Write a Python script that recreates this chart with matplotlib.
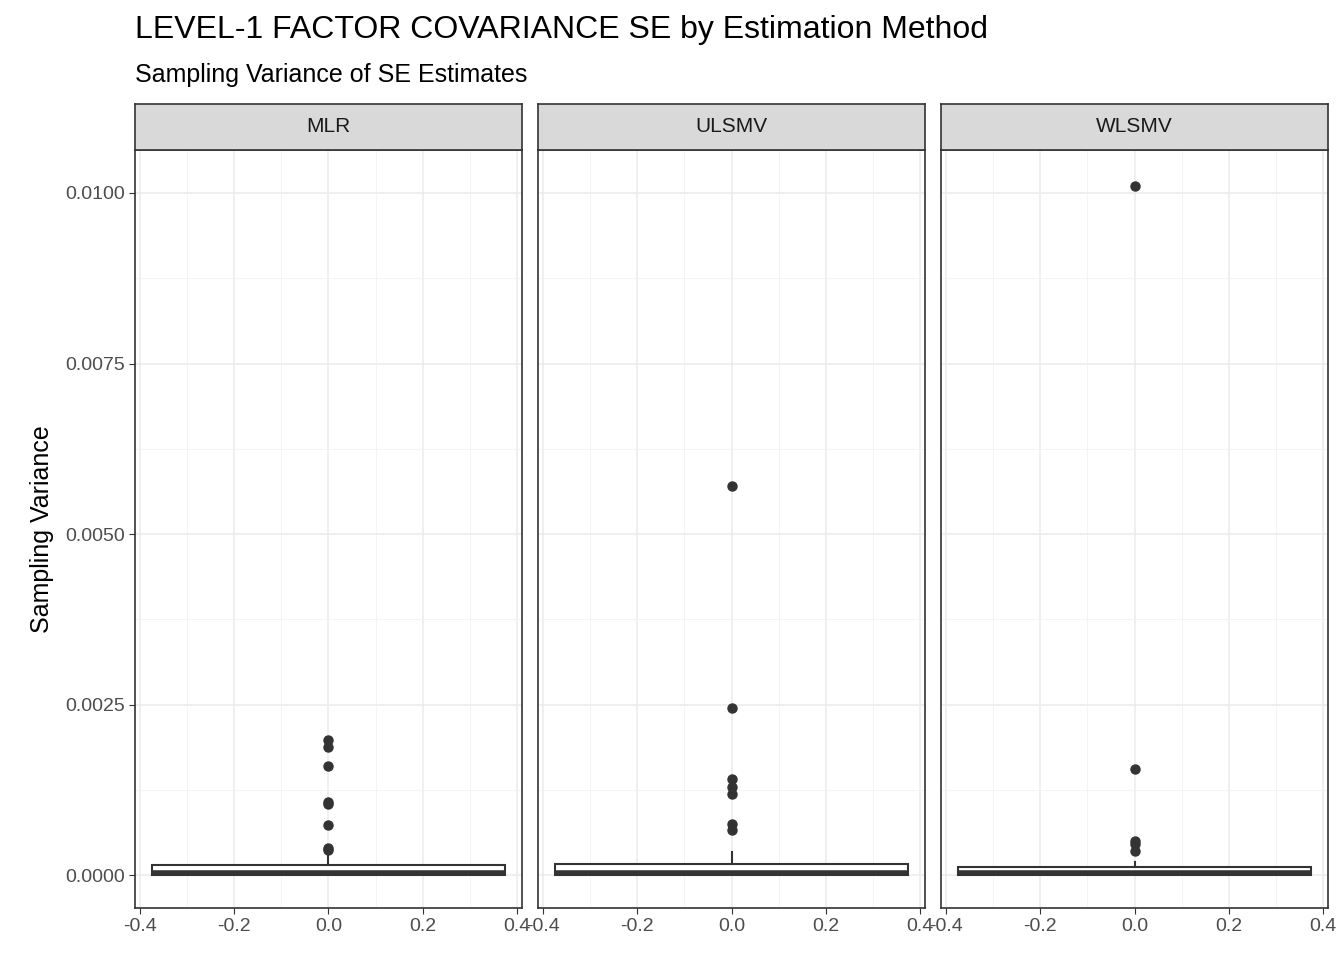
import matplotlib
matplotlib.use("Agg")
import matplotlib.pyplot as plt

plt.rcParams['font.family'] = ['Liberation Sans', 'DejaVu Sans']

methods = ["MLR", "ULSMV", "WLSMV"]
q1 = [0.0, 0.0, 0.0]
med = [0.00003, 0.00003, 0.00003]
q3 = [0.000147, 0.00016, 0.00012]
whislo = [0.0, 0.0, 0.0]
whishi = [0.00028, 0.00034, 0.00019]
outliers = [
    [0.00198, 0.00188, 0.0016, 0.00107, 0.00104, 0.00073, 0.0004, 0.00037],
    [0.0057, 0.00245, 0.00141, 0.00129, 0.00119, 0.00075, 0.00066],
    [0.0101, 0.00155, 0.0005, 0.00046, 0.00035],
]
yticks = [0.0, 0.0025, 0.005, 0.0075, 0.01]
ytick_labels = ["0.0000", "0.0025", "0.0050", "0.0075", "0.0100"]
xticks = [-0.4, -0.2, 0.0, 0.2, 0.4]
xtick_labels = ["-0.4", "-0.2", "0.0", "0.2", "0.4"]

W, H = 1344, 960
fig = plt.figure(figsize=(13.44, 9.6), dpi=100)
lefts = [135, 538, 941]
pw = 387
top, bottom, strip_top = 150, 908, 104
dark = "#333333"
for i, m in enumerate(methods):
    ax = fig.add_axes([lefts[i]/W, 1-bottom/H, pw/W, (bottom-top)/H])
    stats = [dict(med=med[i], q1=q1[i], q3=q3[i], whislo=whislo[i], whishi=whishi[i], fliers=outliers[i])]
    ax.bxp(stats, positions=[0.0], widths=0.75, patch_artist=True, showfliers=True, manage_ticks=False,
           boxprops=dict(facecolor="white", edgecolor=dark, lw=1.5),
           medianprops=dict(color=dark, lw=4),
           whiskerprops=dict(color=dark, lw=1.5), capprops=dict(lw=0),
           flierprops=dict(marker="o", markerfacecolor=dark, markeredgecolor=dark, markersize=6.5))
    ax.set_xlim(-0.41, 0.41)
    ax.set_ylim(-0.00048, 0.01063)
    ax.set_xticks(xticks)
    ax.set_xticklabels(xtick_labels)
    ax.set_xticks([-0.3, -0.1, 0.1, 0.3], minor=True)
    ax.set_yticks(yticks)
    ax.set_yticks([0.00125, 0.00375, 0.00625, 0.00875], minor=True)
    ax.grid(True, which="major", color="#ebebeb", lw=1.1)
    ax.grid(True, which="minor", color="#f3f3f3", lw=0.6)
    ax.set_axisbelow(True)
    if i == 0:
        ax.set_yticklabels(ytick_labels)
        ax.set_ylabel("Sampling Variance", fontsize=18, labelpad=8)
    else:
        ax.tick_params(axis="y", labelleft=False, left=False, which="both")
    ax.tick_params(axis="both", which="major", labelsize=14, colors=dark, labelcolor="#4d4d4d", length=4)
    ax.tick_params(axis="both", which="minor", length=0)
    for s in ax.spines.values():
        s.set_color(dark); s.set_linewidth(1.2)
    sax = fig.add_axes([lefts[i]/W, 1-top/H, pw/W, (top-strip_top)/H])
    sax.set_xticks([]); sax.set_yticks([])
    sax.set_facecolor("#d9d9d9")
    for s in sax.spines.values():
        s.set_color(dark); s.set_linewidth(1.2)
    sax.text(0.5, 0.5, m, ha="center", va="center", fontsize=15, color="#1a1a1a", transform=sax.transAxes)

fig.text(135/W, 1-30/H, "LEVEL-1 FACTOR COVARIANCE SE by Estimation Method", fontsize=23, va="center")
fig.text(135/W, 1-75/H, "Sampling Variance of SE Estimates", fontsize=18, va="center")
fig.savefig("out.png", dpi=100, facecolor="white")
